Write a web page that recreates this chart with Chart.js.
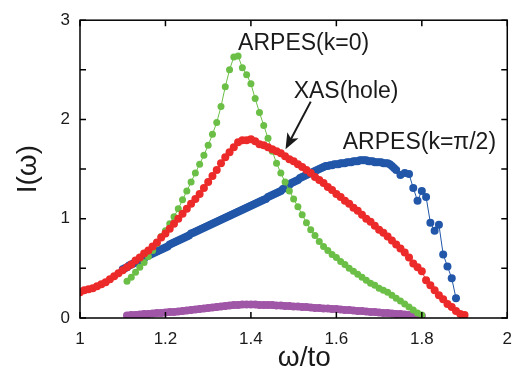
<!DOCTYPE html>
<html>
<head>
<meta charset="utf-8">
<script src="https://cdn.jsdelivr.net/npm/chart.js@4/dist/chart.umd.min.js"></script>
<style>
  body { margin: 0; background: #fff; }
  canvas { display: block; }
</style>
</head>
<body>
<canvas id="spectra" width="523" height="372"></canvas>
<script>
// omega grid for ARPES(k=0) and the purple curve
const omegaA = [1.11, 1.12, 1.13, 1.14, 1.15, 1.16, 1.17, 1.18, 1.19, 1.20,
  1.21, 1.22, 1.23, 1.24, 1.25, 1.26, 1.27, 1.28, 1.29, 1.30,
  1.31, 1.32, 1.33, 1.34, 1.35, 1.36, 1.37, 1.38, 1.39, 1.40,
  1.41, 1.42, 1.43, 1.44, 1.45, 1.46, 1.47, 1.48, 1.49, 1.50,
  1.51, 1.52, 1.53, 1.54, 1.55, 1.56, 1.57, 1.58, 1.59, 1.60,
  1.61, 1.62, 1.63, 1.64, 1.65, 1.66, 1.67, 1.68, 1.69, 1.70,
  1.71, 1.72, 1.73, 1.74, 1.75, 1.76, 1.77, 1.78, 1.79, 1.80];

const arpesK0 = [0.37, 0.41, 0.46, 0.51, 0.56, 0.62, 0.68, 0.75, 0.82, 0.88,
  0.95, 1.02, 1.10, 1.19, 1.28, 1.37, 1.46, 1.55, 1.64, 1.74,
  1.85, 1.97, 2.13, 2.33, 2.50, 2.63, 2.64, 2.52, 2.45, 2.36,
  2.21, 2.07, 1.94, 1.81, 1.68, 1.56, 1.46, 1.37, 1.28, 1.20,
  1.12, 1.04, 0.96, 0.89, 0.83, 0.77, 0.72, 0.68, 0.64, 0.61,
  0.57, 0.54, 0.50, 0.47, 0.44, 0.41, 0.38, 0.35, 0.33, 0.30,
  0.28, 0.26, 0.23, 0.20, 0.17, 0.14, 0.11, 0.08, 0.05, 0.03];

const lowBand = [0.025, 0.03, 0.03, 0.035, 0.04, 0.04, 0.045, 0.05, 0.05, 0.055,
  0.06, 0.06, 0.065, 0.07, 0.075, 0.08, 0.085, 0.09, 0.095, 0.10,
  0.105, 0.11, 0.115, 0.12, 0.125, 0.13, 0.13, 0.135, 0.135, 0.135,
  0.135, 0.13, 0.13, 0.13, 0.13, 0.125, 0.125, 0.12, 0.12, 0.115,
  0.115, 0.11, 0.11, 0.105, 0.10, 0.10, 0.095, 0.095, 0.09, 0.09,
  0.085, 0.08, 0.08, 0.075, 0.07, 0.07, 0.065, 0.06, 0.06, 0.055,
  0.05, 0.05, 0.045, 0.04, 0.04, 0.035, 0.03, 0.03, 0.025, 0.02];

// XAS(hole)
const omegaB = [1.00, 1.01, 1.02, 1.03, 1.04, 1.05, 1.06, 1.07, 1.08, 1.09,
  1.10, 1.11, 1.12, 1.13, 1.14, 1.15, 1.16, 1.17, 1.18, 1.19,
  1.20, 1.21, 1.22, 1.23, 1.24, 1.25, 1.26, 1.27, 1.28, 1.29,
  1.30, 1.31, 1.32, 1.33, 1.34, 1.35, 1.36, 1.37, 1.38, 1.39,
  1.40, 1.41, 1.42, 1.43, 1.44, 1.45, 1.46, 1.47, 1.48, 1.49,
  1.50, 1.51, 1.52, 1.53, 1.54, 1.55, 1.56, 1.57, 1.58, 1.59,
  1.60, 1.61, 1.62, 1.63, 1.64, 1.65, 1.66, 1.67, 1.68, 1.69,
  1.70, 1.71, 1.72, 1.73, 1.74, 1.75, 1.76, 1.77, 1.78, 1.79,
  1.80, 1.81, 1.82, 1.83, 1.84, 1.85, 1.86, 1.87, 1.88, 1.89, 1.90];

const xasHole = [0.26, 0.28, 0.29, 0.30, 0.32, 0.34, 0.36, 0.39, 0.42, 0.45,
  0.48, 0.51, 0.54, 0.58, 0.61, 0.65, 0.68, 0.72, 0.76, 0.81,
  0.85, 0.90, 0.95, 1.00, 1.05, 1.10, 1.15, 1.20, 1.25, 1.31,
  1.37, 1.43, 1.49, 1.56, 1.62, 1.67, 1.72, 1.77, 1.79, 1.79,
  1.80, 1.78, 1.75, 1.74, 1.72, 1.70, 1.68, 1.66, 1.63, 1.60,
  1.58, 1.55, 1.52, 1.49, 1.46, 1.42, 1.39, 1.36, 1.32, 1.29,
  1.25, 1.22, 1.18, 1.15, 1.11, 1.08, 1.04, 1.00, 0.97, 0.93,
  0.89, 0.86, 0.82, 0.78, 0.74, 0.70, 0.66, 0.61, 0.55, 0.51,
  0.47, 0.38, 0.33, 0.28, 0.23, 0.19, 0.14, 0.11, 0.07, 0.04, 0.03];

// ARPES(k=pi/2): dense up to 1.74, then the noisy tail
const omegaC = [1.100, 1.105, 1.110, 1.115, 1.120, 1.125, 1.130, 1.135, 1.140, 1.145,
  1.150, 1.155, 1.160, 1.165, 1.170, 1.175, 1.180, 1.185, 1.190, 1.195,
  1.200, 1.205, 1.210, 1.215, 1.220, 1.225, 1.230, 1.235, 1.240, 1.245,
  1.250, 1.255, 1.260, 1.265, 1.270, 1.275, 1.280, 1.285, 1.290, 1.295,
  1.300, 1.305, 1.310, 1.315, 1.320, 1.325, 1.330, 1.335, 1.340, 1.345,
  1.350, 1.355, 1.360, 1.365, 1.370, 1.375, 1.380, 1.385, 1.390, 1.395,
  1.400, 1.405, 1.410, 1.415, 1.420, 1.425, 1.430, 1.435, 1.440, 1.445,
  1.450, 1.455, 1.460, 1.465, 1.470, 1.475, 1.480, 1.485, 1.490, 1.495,
  1.500, 1.505, 1.510, 1.515, 1.520, 1.525, 1.530, 1.535, 1.540, 1.545,
  1.550, 1.555, 1.560, 1.565, 1.570, 1.575, 1.580, 1.585, 1.590, 1.595,
  1.600, 1.605, 1.610, 1.615, 1.620, 1.625, 1.630, 1.635, 1.640, 1.645,
  1.650, 1.655, 1.660, 1.665, 1.670, 1.675, 1.680, 1.685, 1.690, 1.695,
  1.700, 1.705, 1.710, 1.715, 1.720, 1.725, 1.730, 1.735, 1.740,
  1.75, 1.76, 1.77, 1.78, 1.79, 1.80, 1.81, 1.82, 1.83, 1.84, 1.85, 1.86, 1.87, 1.88];

const arpesKpi2 = [0.49, 0.50, 0.51, 0.53, 0.54, 0.55, 0.56, 0.57, 0.58, 0.59,
  0.60, 0.62, 0.63, 0.64, 0.65, 0.66, 0.67, 0.68, 0.69, 0.70,
  0.71, 0.72, 0.74, 0.75, 0.76, 0.77, 0.78, 0.79, 0.80, 0.81,
  0.82, 0.83, 0.85, 0.86, 0.87, 0.88, 0.89, 0.90, 0.91, 0.92,
  0.93, 0.94, 0.95, 0.96, 0.97, 0.98, 0.99, 1.00, 1.01, 1.02,
  1.03, 1.04, 1.05, 1.06, 1.07, 1.08, 1.09, 1.10, 1.11, 1.12,
  1.13, 1.14, 1.15, 1.16, 1.17, 1.18, 1.19, 1.20, 1.22, 1.23,
  1.24, 1.25, 1.26, 1.27, 1.28, 1.30, 1.31, 1.33, 1.34, 1.36,
  1.37, 1.38, 1.39, 1.41, 1.42, 1.43, 1.44, 1.45, 1.46, 1.47,
  1.48, 1.49, 1.50, 1.51, 1.52, 1.53, 1.53, 1.54, 1.54, 1.55,
  1.55, 1.55, 1.56, 1.56, 1.56, 1.57, 1.57, 1.57, 1.58, 1.58,
  1.58, 1.59, 1.59, 1.59, 1.59, 1.58, 1.58, 1.58, 1.57, 1.57,
  1.57, 1.57, 1.56, 1.56, 1.56, 1.55, 1.53, 1.51, 1.49,
  1.44, 1.46, 1.45, 1.31, 1.18, 1.28, 1.22, 0.96, 0.88, 0.94, 0.64, 0.52, 0.40, 0.20];

const xTicks = [1, 1.2, 1.4, 1.6, 1.8, 2];

// text labels and arrow, in data units
const noteText = ['ARPES(k=0)', 'XAS(hole)', 'ARPES(k=\u03c0/2)'];
const noteX = [1.37, 1.50, 1.615];
const noteY = [2.70, 2.215, 1.705];
const arrowFrom = [1.54, 2.18];
const arrowTo = [1.481, 1.70];
const xTitle = '\u03c9/to';
const xTitleAt = 1.525;

const FONT = '"Liberation Sans", Arial, Helvetica, sans-serif';

function pts(xs, ys) {
  return xs.map((x, i) => ({ x: x, y: ys[i] }));
}

const frame = {
  id: 'frame',
  afterDraw(chart) {
    const { ctx, chartArea: a, scales: { x, y } } = chart;
    ctx.save();
    ctx.strokeStyle = '#000';
    ctx.lineWidth = 1.5;
    ctx.strokeRect(a.left, a.top, a.right - a.left, a.bottom - a.top);
    ctx.beginPath();
    x.ticks.forEach(t => {
      const px = x.getPixelForValue(t.value);
      ctx.moveTo(px, a.bottom); ctx.lineTo(px, a.bottom - 6);
      ctx.moveTo(px, a.top); ctx.lineTo(px, a.top + 6);
    });
    y.ticks.forEach(t => {
      const py = y.getPixelForValue(t.value);
      ctx.moveTo(a.left, py); ctx.lineTo(a.left + 6, py);
      ctx.moveTo(a.right, py); ctx.lineTo(a.right - 6, py);
    });
    ctx.stroke();

    ctx.fillStyle = '#1a1a1a';
    ctx.font = '23px ' + FONT;
    ctx.textBaseline = 'alphabetic';
    ctx.textAlign = 'left';
    noteText.forEach((s, i) => {
      ctx.fillText(s, x.getPixelForValue(noteX[i]), y.getPixelForValue(noteY[i]));
    });

    // x axis title
    ctx.font = '28px ' + FONT;
    ctx.textAlign = 'center';
    ctx.fillText(xTitle, x.getPixelForValue(xTitleAt), x.bottom - 6);

    // arrow
    const x0 = x.getPixelForValue(arrowFrom[0]), y0 = y.getPixelForValue(arrowFrom[1]);
    const x1 = x.getPixelForValue(arrowTo[0]), y1 = y.getPixelForValue(arrowTo[1]);
    const ang = Math.atan2(y1 - y0, x1 - x0);
    const len = 17, half = 0.38;
    ctx.strokeStyle = '#1a1a1a';
    ctx.lineWidth = 2;
    ctx.beginPath();
    ctx.moveTo(x0, y0);
    ctx.lineTo(x1 - Math.cos(ang) * 10, y1 - Math.sin(ang) * 10);
    ctx.stroke();
    ctx.beginPath();
    ctx.moveTo(x1, y1);
    ctx.lineTo(x1 - len * Math.cos(ang - half), y1 - len * Math.sin(ang - half));
    ctx.lineTo(x1 - len * 0.7 * Math.cos(ang), y1 - len * 0.7 * Math.sin(ang));
    ctx.lineTo(x1 - len * Math.cos(ang + half), y1 - len * Math.sin(ang + half));
    ctx.closePath();
    ctx.fill();
    ctx.restore();
  }
};

new Chart(document.getElementById('spectra'), {
  type: 'scatter',
  data: {
    datasets: [
      {
        data: pts(omegaB, xasHole),
        showLine: true,
        borderColor: '#ec2a2a',
        borderWidth: 1,
        backgroundColor: '#ec2a2a',
        pointRadius: 4,
        pointBorderWidth: 0
      },
      {
        data: pts(omegaA, arpesK0),
        showLine: true,
        borderColor: '#6bbf46',
        borderWidth: 1,
        backgroundColor: '#6bbf46',
        pointRadius: 3.5,
        pointBorderWidth: 0
      },
      {
        data: pts(omegaC, arpesKpi2),
        showLine: true,
        borderColor: '#2156a8',
        borderWidth: 1,
        backgroundColor: '#2156a8',
        pointRadius: 4,
        pointBorderWidth: 0
      },
      {
        data: pts(omegaA, lowBand),
        showLine: true,
        borderColor: '#a056a6',
        borderWidth: 7,
        backgroundColor: '#a056a6',
        pointRadius: 4,
        pointBorderWidth: 0
      }
    ]
  },
  options: {
    responsive: false,
    animation: false,
    devicePixelRatio: 1,
    layout: { padding: { left: 0, top: 18, right: 8, bottom: 0 } },
    plugins: {
      legend: { display: false },
      tooltip: { enabled: false }
    },
    scales: {
      x: {
        type: 'linear',
        min: 1,
        max: 2,
        afterFit(scale) { scale.height = 54; },
        afterBuildTicks(scale) { scale.ticks = xTicks.map(v => ({ value: v })); },
        grid: { display: false, drawTicks: false },
        border: { display: false },
        ticks: {
          padding: 11,
          color: '#1a1a1a',
          font: { family: FONT, size: 17 },
          callback: v => String(v)
        }
      },
      y: {
        min: 0,
        max: 3,
        afterFit(scale) { scale.width = 80; },
        grid: { display: false, drawTicks: false },
        border: { display: false },
        ticks: {
          stepSize: 0.5,
          padding: 10,
          color: '#1a1a1a',
          font: { family: FONT, size: 17 },
          callback: v => Number.isInteger(v) ? String(v) : ''
        },
        title: {
          display: true,
          text: 'I(\u03c9)',
          color: '#1a1a1a',
          font: { family: FONT, size: 28, lineHeight: 1 },
          padding: { top: 14, bottom: 0 }
        }
      }
    }
  },
  plugins: [frame]
});
</script>
</body>
</html>
